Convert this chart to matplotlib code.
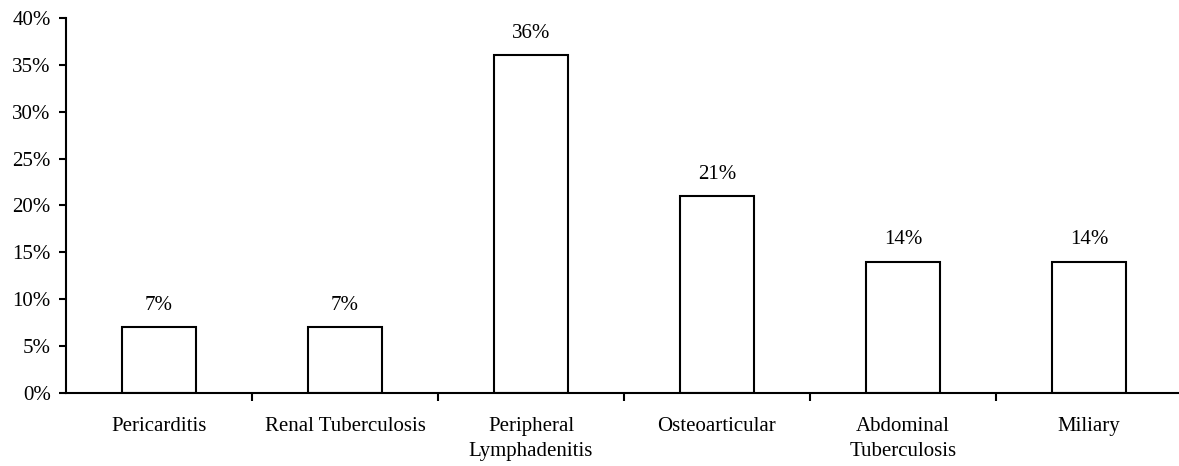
import matplotlib
matplotlib.use("Agg")
import matplotlib.pyplot as plt
from matplotlib.ticker import FixedLocator, PercentFormatter

categories = ["Pericarditis", "Renal Tuberculosis", "Peripheral\nLymphadenitis",
              "Osteoarticular", "Abdominal\nTuberculosis", "Miliary"]
values = [7, 7, 36, 21, 14, 14]
yticks = [0, 5, 10, 15, 20, 25, 30, 35, 40]

plt.rcParams['font.family'] = ['Liberation Serif', 'DejaVu Serif']
FS = 15

W, H = 1179, 466
fig = plt.figure(figsize=(W / 100, H / 100), dpi=100)
ax = fig.add_axes([66 / W, (H - 393) / H, 1116 / W, 375 / H])

x = list(range(len(categories)))
ax.bar(x, values, width=0.4, color='white', edgecolor='black', linewidth=1.5)
for xi, v in zip(x, values):
    ax.annotate(f"{v}%", (xi, v), xytext=(0, 9), textcoords='offset points',
                ha='center', va='bottom', fontsize=FS)

ax.set_xlim(-0.5, len(categories) - 0.5)
ax.set_ylim(0, 40)
ax.set_yticks(yticks)
ax.yaxis.set_major_formatter(PercentFormatter(decimals=0))
ax.tick_params(axis='y', labelsize=FS, length=5, width=1.5, direction='out', pad=6)

ax.set_xticks(x)
ax.set_xticklabels(categories, fontsize=FS)
for t in ax.get_xticklabels():
    t.set_linespacing(1.45)
ax.tick_params(axis='x', which='major', length=0, pad=17)
ax.xaxis.set_minor_locator(FixedLocator([i + 0.5 for i in range(len(categories) - 1)]))
ax.tick_params(axis='x', which='minor', length=6, width=1.5, direction='out')

for s in ['top', 'right']:
    ax.spines[s].set_visible(False)
for s in ['left', 'bottom']:
    ax.spines[s].set_linewidth(1.5)

fig.savefig("out.png", dpi=100)
